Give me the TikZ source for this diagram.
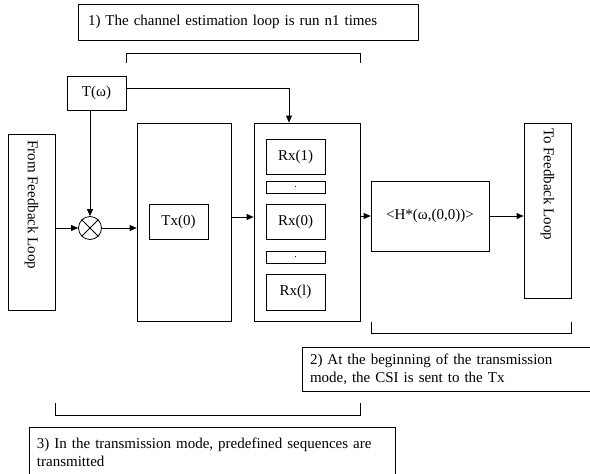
\documentclass[tikz,border=0pt]{standalone}
\usepackage{fontspec}
\setmainfont{Liberation Serif}
\usetikzlibrary{arrows.meta,calc}
\begin{document}
\begin{tikzpicture}[x=1pt,y=-1pt,
  every node/.style={font=\fontsize{15}{18}\selectfont},
  box/.style={draw, line width=0.8pt, inner sep=0pt, align=center},
  note/.style={box, align=left, inner xsep=8pt},
  arr/.style={line width=0.8pt, -{Triangle[length=7pt,width=6pt]}},
  ln/.style={line width=0.8pt},
]
\useasboundingbox (0,0) rectangle (590,474);

% notes
\node[note, text width=320pt, inner xsep=10pt, minimum height=36pt] (n1) at (248,22)
  {1) The channel estimation loop is run n1 times};
\node[note, text width=274pt, minimum height=44pt] (n2) at (447,369)
  {2) At the beginning of the transmission\\mode, the CSI is sent to the Tx};
\node[note, text width=350pt, minimum height=50pt] (n3) at (212,452)
  {3) In the transmission mode, predefined sequences are\\transmitted};

% brackets
\draw[ln] (126,63) -- (126,53) -- (360,53) -- (360,63);
\draw[ln] (371,322) -- (371,333) -- (571,333) -- (571,322);
\draw[ln] (55,403) -- (55,415) -- (360,415) -- (360,403);

% blocks
\node[box, minimum width=59pt, minimum height=34pt] (T) at (96.5,93) {T(ω)};
\node[box, minimum width=47pt, minimum height=176pt] (from) at (31.5,222) {};
\node[rotate=-90, anchor=west, inner sep=0pt] (fromtxt) at (from.north |- 0,140) {From Feedback Loop};
\node[draw, line width=0.8pt, circle, minimum size=23pt, inner sep=0pt] (mix) at (90,228) {};
\draw[ln] (mix.45) -- (mix.225);
\draw[ln] (mix.135) -- (mix.315);

\node[box, minimum width=94pt, minimum height=198pt] (tx) at (184,222) {};
\node[box, minimum width=59pt, minimum height=35pt] (tx0) at (178.5,221.5) {Tx(0)};

\node[box, minimum width=106pt, minimum height=198pt] (rx) at (307,222) {};
\node[box, minimum width=59pt, minimum height=35pt] (rx1) at (295.5,156.5) {Rx(1)};
\node[box, minimum width=59pt, minimum height=12pt] (d1) at (295.5,187) {\fontsize{10}{10}\selectfont .};
\node[box, minimum width=59pt, minimum height=35pt] (rx0) at (295.5,221.5) {Rx(0)};
\node[box, minimum width=59pt, minimum height=12pt] (d2) at (295.5,257.5) {\fontsize{10}{10}\selectfont .};
\node[box, minimum width=59pt, minimum height=36pt] (rxl) at (295.5,292) {Rx(l)};

\node[box, minimum width=118pt, minimum height=70pt] (H) at (430,216) {<H*(ω,(0,0))>};
\node[box, minimum width=47pt, minimum height=175pt] (to) at (547.5,210.5) {};
\node[rotate=-90, anchor=west, inner sep=0pt] (totxt) at (to.north |- 0,128) {To Feedback Loop};

% connectors
\draw[arr] ([yshift=5pt]T.east) -| ([xshift=-18pt]rx.north);
\draw[arr] (mix.north |- T.south) -- (mix.north);
\draw[arr] (from.east |- mix.west) -- (mix.west);
\draw[arr] (mix.east) -- (tx.west |- mix.east);
\draw[arr] ([yshift=5pt]tx.east) -- ([yshift=5pt]rx.west);
\draw[arr] (rx.east |- H.west) -- (H.west);
\draw[arr] (H.east) -- (to.west |- H.east);
\end{tikzpicture}
\end{document}
